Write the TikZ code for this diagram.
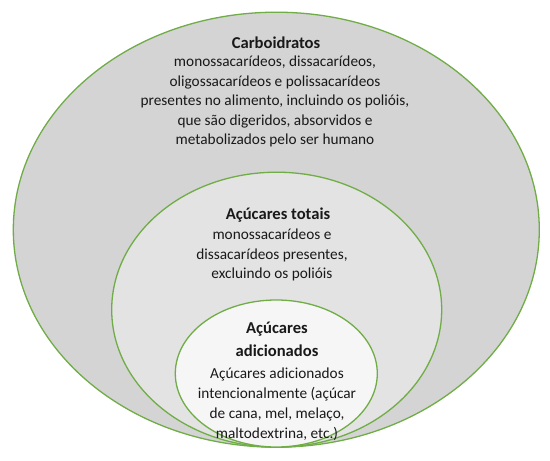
\documentclass[tikz,border=0pt]{standalone}
\usepackage{fontspec}
\setmainfont{Carlito}
\usetikzlibrary{shapes.geometric}
\definecolor{ringgreen}{HTML}{70AD47}
\definecolor{outerfill}{HTML}{D4D4D4}
\definecolor{midfill}{HTML}{E3E3E3}
\definecolor{innerfill}{HTML}{F6F6F6}
\tikzset{
  ring/.style={ellipse, draw=ringgreen, line width=1.3pt, inner sep=0pt},
  txt/.style={align=center, inner sep=0pt, font=\fontsize{15.3}{19.4}\selectfont, text=black!90},
  ttl/.style={align=center, inner sep=0pt, font=\fontsize{16.6}{23}\selectfont\bfseries, text=black!90}
}
\begin{document}
\begin{tikzpicture}[x=1pt,y=-1pt]
\useasboundingbox[fill=white] (0,0) rectangle (550,461);
\node[ring, fill=outerfill, minimum width=526pt, minimum height=435pt] (outer) at (276.3,229.7) {};
\node[ring, fill=midfill, minimum width=330pt, minimum height=275pt] (mid) at (276.7,309.7) {};
\node[ring, fill=innerfill, minimum width=202pt, minimum height=147pt] (inner) at (276.3,373.5) {};
\node[ttl, anchor=base] (t1) at (276,48.5) {Carboidratos};
\node[txt, anchor=north] (b1) at (275,56) {monossacarídeos, dissacarídeos,\\oligossacarídeos e polissacarídeos\\presentes no alimento, incluindo os polióis,\\que são digeridos, absorvidos e\\metabolizados pelo ser humano};
\node[ttl, anchor=base] (t2) at (278,219) {Açúcares totais};
\node[txt, anchor=north] (b2) at (272,229) {monossacarídeos e\\dissacarídeos presentes,\\excluindo os polióis};
\node[ttl, anchor=base] (t3a) at (277,333) {Açúcares};
\node[ttl, anchor=base] (t3b) at (277,356) {adicionados};
\node[txt, anchor=north, font=\fontsize{15.3}{20}\selectfont] (b3) at (277,368) {Açúcares adicionados\\intencionalmente (açúcar\\de cana, mel, melaço,\\maltodextrina, etc.)};
\end{tikzpicture}
\end{document}
